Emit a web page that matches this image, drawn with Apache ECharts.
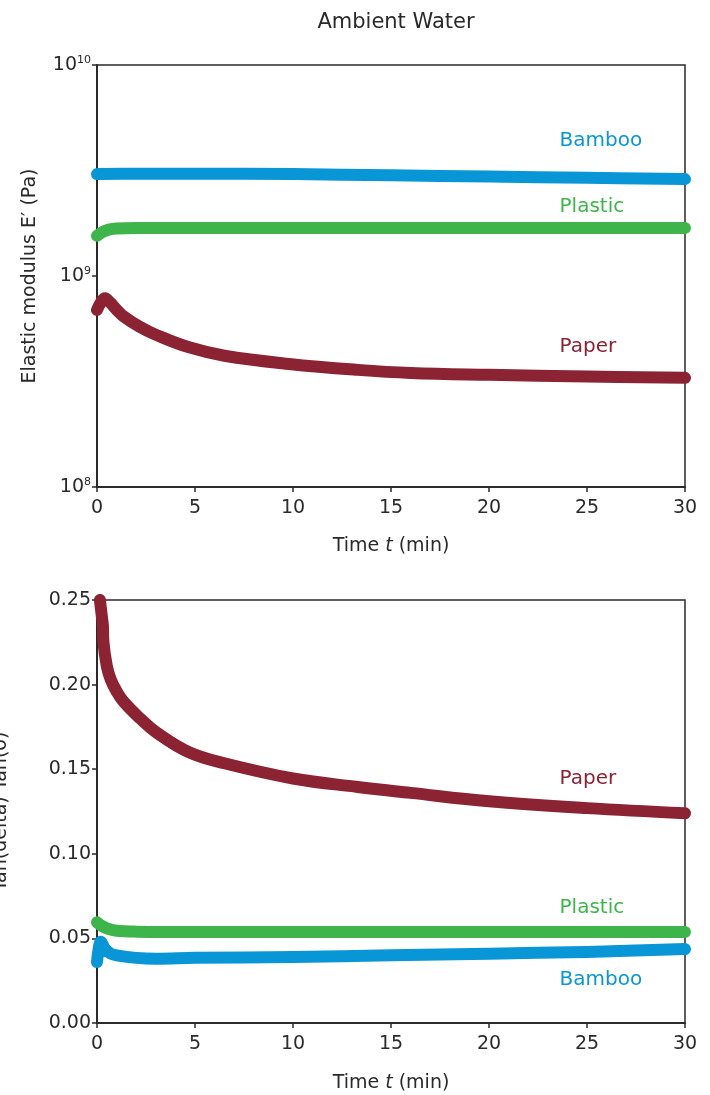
<!DOCTYPE html>
<html>
<head>
<meta charset="utf-8">
<script src="https://cdn.jsdelivr.net/npm/echarts@6/dist/echarts.min.js"></script>
<style>
  html, body { margin: 0; padding: 0; background: #fff; }
  #chart { width: 710px; height: 1095px; }
</style>
</head>
<body>
<div id="chart"></div>
<script>
// 储能模量 E' (Pa), 时间 (min)
const timeBamboo = [0, 2, 5, 10, 15, 20, 25, 30];
const bambooE = [3.04e9, 3.05e9, 3.05e9, 3.04e9, 3.0e9, 2.96e9, 2.92e9, 2.88e9];

const timePlastic = [0, 0.3, 0.6, 1, 2, 5, 10, 20, 30];
const plasticE = [1.55e9, 1.62e9, 1.66e9, 1.68e9, 1.69e9, 1.69e9, 1.69e9, 1.69e9, 1.69e9];

const timePaper = [0, 0.2, 0.41, 0.66, 1, 1.34, 2.2, 3, 4.7, 6.5, 9.8, 13.3, 16, 20, 25, 30];
const paperE = [6.9e8, 7.5e8, 7.85e8, 7.5e8, 6.92e8, 6.46e8, 5.73e8, 5.27e8, 4.59e8, 4.19e8, 3.83e8, 3.59e8, 3.47e8, 3.40e8, 3.34e8, 3.29e8];

// tan(delta)
const timeTanPaper = [0.15, 0.25, 0.3, 0.33, 0.5, 0.7, 1, 1.35, 2.2, 3, 4.7, 6.5, 10, 13.3, 16, 20, 25, 30];
const paperTan = [0.25, 0.24, 0.235, 0.225, 0.211, 0.203, 0.196, 0.190, 0.180, 0.172, 0.160, 0.1535, 0.1445, 0.1395, 0.136, 0.131, 0.127, 0.124];

const timeTanPlastic = [0, 0.3, 0.6, 1, 2, 5, 10, 20, 30];
const plasticTan = [0.0595, 0.057, 0.0555, 0.0545, 0.054, 0.0538, 0.0538, 0.0538, 0.0538];

const timeTanBamboo = [0, 0.1, 0.2, 0.4, 0.7, 1, 2, 3, 5, 10, 15, 20, 25, 30];
const bambooTan = [0.036, 0.045, 0.048, 0.044, 0.041, 0.040, 0.0385, 0.038, 0.0385, 0.039, 0.040, 0.041, 0.042, 0.0437];

// 标签位置 [名称, t, 值]
const labelsTop = [['Bamboo', 23.6, 4.37e9], ['Plastic', 23.6, 2.12e9], ['Paper', 23.6, 4.61e8]];
const labelsBottom = [['Paper', 23.6, 0.1442], ['Plastic', 23.6, 0.068], ['Bamboo', 23.6, 0.0254]];

const colors = { Bamboo: '#0996d6', Plastic: '#3db54a', Paper: '#8b2332' };
const font = '"DejaVu Sans", sans-serif';
const ink = '#2a2a2a';

function pairs(t, v) {
    return t.map((x, i) => [x, v[i]]);
}

function lineSeries(name, t, v, idx, label) {
    return {
        name: name,
        type: 'line',
        xAxisIndex: idx,
        yAxisIndex: idx,
        data: pairs(t, v),
        smooth: 0.4,
        showSymbol: false,
        silent: true,
        lineStyle: { color: colors[name], width: 12, cap: 'round', join: 'round' },
        markPoint: {
            symbol: 'circle',
            symbolSize: 0,
            silent: true,
            data: [{
                coord: [label[1], label[2]],
                label: {
                    show: true,
                    formatter: name,
                    position: 'right',
                    distance: 0,
                    color: colors[name],
                    fontSize: 20,
                    fontFamily: font
                }
            }]
        }
    };
}

function xAxis(idx, gap) {
    return {
        type: 'value',
        gridIndex: idx,
        min: 0,
        max: 30,
        interval: 5,
        name: '{n|Time }{i|t}{n| (min)}',
        nameLocation: 'middle',
        nameGap: gap,
        nameTextStyle: {
            rich: {
                n: { fontSize: 19, fontFamily: font, color: ink },
                i: { fontSize: 19, fontFamily: font, fontStyle: 'italic', color: ink }
            }
        },
        axisLine: { show: true, onZero: false, lineStyle: { color: ink, width: 2 } },
        axisTick: { show: true, length: 5, lineStyle: { color: ink, width: 1.5 } },
        axisLabel: { color: ink, fontSize: 19, fontFamily: font, margin: 12 },
        splitLine: { show: false }
    };
}

const chart = echarts.init(document.getElementById('chart'));

const option = {
    animation: false,
    backgroundColor: '#fff',
    title: {
        text: 'Ambient Water',
        left: 391,
        top: 7,
        textAlign: 'center',
        textStyle: { fontSize: 21, fontWeight: 'normal', fontFamily: font, color: ink }
    },
    grid: [
        { left: 97, top: 65, width: 588, height: 422, show: true, borderColor: ink, borderWidth: 1.5, backgroundColor: 'transparent', outerBoundsMode: 'none' },
        { left: 97, top: 600, width: 588, height: 423, show: true, borderColor: ink, borderWidth: 1.5, backgroundColor: 'transparent', outerBoundsMode: 'none' }
    ],
    xAxis: [xAxis(0, 50), xAxis(1, 51)],
    yAxis: [
        {
            type: 'log',
            gridIndex: 0,
            logBase: 10,
            min: 1e8,
            max: 1e10,
            name: 'Elastic modulus E′ (Pa)',
            nameLocation: 'middle',
            nameGap: 57,
            nameTextStyle: { fontSize: 19, fontFamily: font, color: ink },
            axisLine: { show: true, lineStyle: { color: ink, width: 2 } },
            axisTick: { show: true, length: 5, lineStyle: { color: ink, width: 1.5 } },
            minorTick: { show: false },
            axisLabel: {
                color: ink,
                margin: 6,
                formatter: function (v) {
                    return '{b|10}{s|' + Math.round(Math.log10(v)) + '}';
                },
                rich: {
                    b: { fontSize: 19, fontFamily: font, color: ink },
                    s: { fontSize: 11, fontFamily: font, color: ink, verticalAlign: 'top', padding: [0, 0, 10, 0] }
                }
            },
            splitLine: { show: false }
        },
        {
            type: 'value',
            gridIndex: 1,
            min: 0,
            max: 0.25,
            interval: 0.05,
            name: 'Tan(delta) Tan(δ)',
            nameLocation: 'middle',
            nameGap: 86,
            nameTextStyle: { fontSize: 19, fontFamily: font, color: ink },
            axisLine: { show: true, lineStyle: { color: ink, width: 2 } },
            axisTick: { show: true, length: 5, lineStyle: { color: ink, width: 1.5 } },
            axisLabel: {
                color: ink,
                fontSize: 19,
                fontFamily: font,
                margin: 6,
                formatter: v => v.toFixed(2)
            },
            splitLine: { show: false }
        }
    ],
    series: [
        lineSeries('Bamboo', timeBamboo, bambooE, 0, labelsTop[0]),
        lineSeries('Plastic', timePlastic, plasticE, 0, labelsTop[1]),
        lineSeries('Paper', timePaper, paperE, 0, labelsTop[2]),
        lineSeries('Paper', timeTanPaper, paperTan, 1, labelsBottom[0]),
        lineSeries('Plastic', timeTanPlastic, plasticTan, 1, labelsBottom[1]),
        lineSeries('Bamboo', timeTanBamboo, bambooTan, 1, labelsBottom[2])
    ]
};

chart.setOption(option);
</script>
</body>
</html>
